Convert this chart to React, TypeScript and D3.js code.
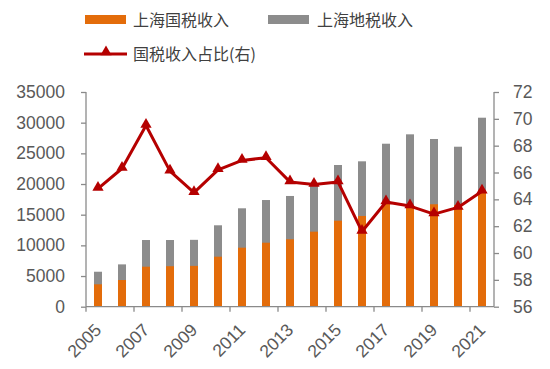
import React, { useEffect, useRef } from 'react';
import * as d3 from 'd3';

// data
const years = ['2005', '2006', '2007', '2008', '2009', '2010', '2011', '2012', '2013',
  '2014', '2015', '2016', '2017', '2018', '2019', '2020', '2021'];
const guoshui = [3650, 4350, 6520, 6600, 6650, 8150, 9620, 10430, 10990,
  12230, 14020, 14790, 16800, 16500, 16700, 16580, 19000];
const total = [5700, 6900, 10870, 10870, 10900, 13270, 16040, 17390, 18050,
  19800, 23100, 23700, 26570, 28100, 27340, 26080, 30810];
const ratio = [64.8, 66.3, 69.5, 66.1, 64.5, 66.2, 66.9, 67.1, 65.3,
  65.1, 65.3, 61.6, 63.8, 63.5, 62.9, 63.4, 64.6];
const leftTicks = [0, 5000, 10000, 15000, 20000, 25000, 30000, 35000];
const rightTicks = [56, 58, 60, 62, 64, 66, 68, 70, 72];
const labelYears = ['2005', '2007', '2009', '2011', '2013', '2015', '2017', '2019', '2021'];

const W = 550;
const H = 369;
const margin = { top: 92, right: 56, bottom: 62.3, left: 86 };

const ORANGE = '#E36C0A';
const GRAY = '#8C8C8C';
const RED = '#B50000';
const AXIS = '#8A8A8A';
const TEXT = '#595959';
const numFont = '"Liberation Sans", Arial, sans-serif';
const cjkFont = '"Noto Sans CJK SC", sans-serif';

const App = () => {
  const ref = useRef<SVGSVGElement>(null);

  useEffect(() => {
    const svg = d3.select(ref.current);
    svg.selectAll('*').remove();

    const x = d3.scaleBand().domain(years).range([margin.left, W - margin.right]).padding(0);
    const yL = d3.scaleLinear().domain([0, 35000]).range([H - margin.bottom, margin.top]);
    const yR = d3.scaleLinear().domain([56, 72]).range([H - margin.bottom, margin.top]);
    const barW = 8;
    const cx = (d: string) => (x(d) as number) + x.bandwidth() / 2;

    // bars: gray total behind, orange national tax in front
    svg.append('g').selectAll('rect').data(years).join('rect')
      .attr('x', d => cx(d) - barW / 2)
      .attr('width', barW)
      .attr('y', (d, i) => yL(total[i]))
      .attr('height', (d, i) => yL(0) - yL(total[i]))
      .attr('fill', GRAY);
    svg.append('g').selectAll('rect').data(years).join('rect')
      .attr('x', d => cx(d) - barW / 2)
      .attr('width', barW)
      .attr('y', (d, i) => yL(guoshui[i]))
      .attr('height', (d, i) => yL(0) - yL(guoshui[i]))
      .attr('fill', ORANGE);

    // left axis
    const left = svg.append('g').attr('transform', `translate(${margin.left},0)`)
      .call(d3.axisLeft(yL).tickValues(leftTicks).tickSize(5).tickPadding(16).tickFormat(d3.format('d')));
    // right axis
    const right = svg.append('g').attr('transform', `translate(${W - margin.right},0)`)
      .call(d3.axisRight(yR).tickValues(rightTicks).tickSize(5).tickPadding(14));
    [left, right].forEach(g => {
      g.select('.domain').attr('stroke', AXIS).attr('stroke-width', 1.3).attr('d',
        g === left ? `M0,${yL(35000)}V${yL(0)}` : `M0,${yR(72)}V${yR(56)}`);
      g.selectAll('.tick line').attr('stroke', AXIS).attr('stroke-width', 1.3);
      g.selectAll('.tick text').attr('fill', TEXT).attr('font-size', 17.5).attr('font-family', numFont);
    });

    // bottom axis: ticks every two categories at band edges
    const bottom = svg.append('g');
    bottom.append('line')
      .attr('x1', margin.left).attr('x2', W - margin.right)
      .attr('y1', yL(0)).attr('y2', yL(0))
      .attr('stroke', AXIS).attr('stroke-width', 1.3);
    bottom.selectAll('line.t').data(years.filter((d, i) => i % 2 === 0)).join('line')
      .attr('class', 't')
      .attr('x1', d => x(d) as number).attr('x2', d => x(d) as number)
      .attr('y1', yL(0)).attr('y2', yL(0) + 5)
      .attr('stroke', AXIS).attr('stroke-width', 1.3);
    bottom.selectAll('text').data(labelYears).join('text')
      .attr('transform', d => `translate(${cx(d)},${yL(0) + 20}) rotate(-45)`)
      .attr('text-anchor', 'end')
      .attr('dy', '0.35em')
      .attr('fill', TEXT)
      .attr('font-size', 17.5)
      .attr('font-family', numFont)
      .text(d => d);

    // ratio line
    const line = d3.line<number>()
      .x((d, i) => cx(years[i]))
      .y(d => yR(d));
    svg.append('path')
      .datum(ratio)
      .attr('d', line)
      .attr('fill', 'none')
      .attr('stroke', RED)
      .attr('stroke-width', 3)
      .attr('stroke-linejoin', 'round');
    const tri = d3.symbol().type(d3.symbolTriangle).size(55);
    svg.append('g').selectAll('path').data(ratio).join('path')
      .attr('transform', (d, i) => `translate(${cx(years[i])},${yR(d) - 1})`)
      .attr('d', tri)
      .attr('fill', RED);

    // legend
    const lg = svg.append('g');
    lg.append('rect').attr('x', 85).attr('y', 15).attr('width', 41).attr('height', 9).attr('fill', ORANGE);
    lg.append('text').attr('x', 133).attr('y', 20).attr('dy', '0.35em').text('上海国税收入');
    lg.append('rect').attr('x', 268).attr('y', 15).attr('width', 41).attr('height', 9).attr('fill', GRAY);
    lg.append('text').attr('x', 317).attr('y', 20).attr('dy', '0.35em').text('上海地税收入');
    lg.append('line').attr('x1', 84).attr('x2', 127).attr('y1', 54).attr('y2', 54)
      .attr('stroke', RED).attr('stroke-width', 3);
    lg.append('path').attr('transform', 'translate(106,52)').attr('d', tri).attr('fill', RED);
    lg.append('text').attr('x', 133).attr('y', 54).attr('dy', '0.35em').text('国税收入占比(右)');
    lg.selectAll('text').attr('font-family', cjkFont).attr('font-size', 16).attr('fill', '#404040');
  }, []);

  return (
    <svg ref={ref} width={W} height={H}
      style={{ position: 'absolute', left: 0, top: 0, background: '#fff' }} />
  );
};

export default App;
